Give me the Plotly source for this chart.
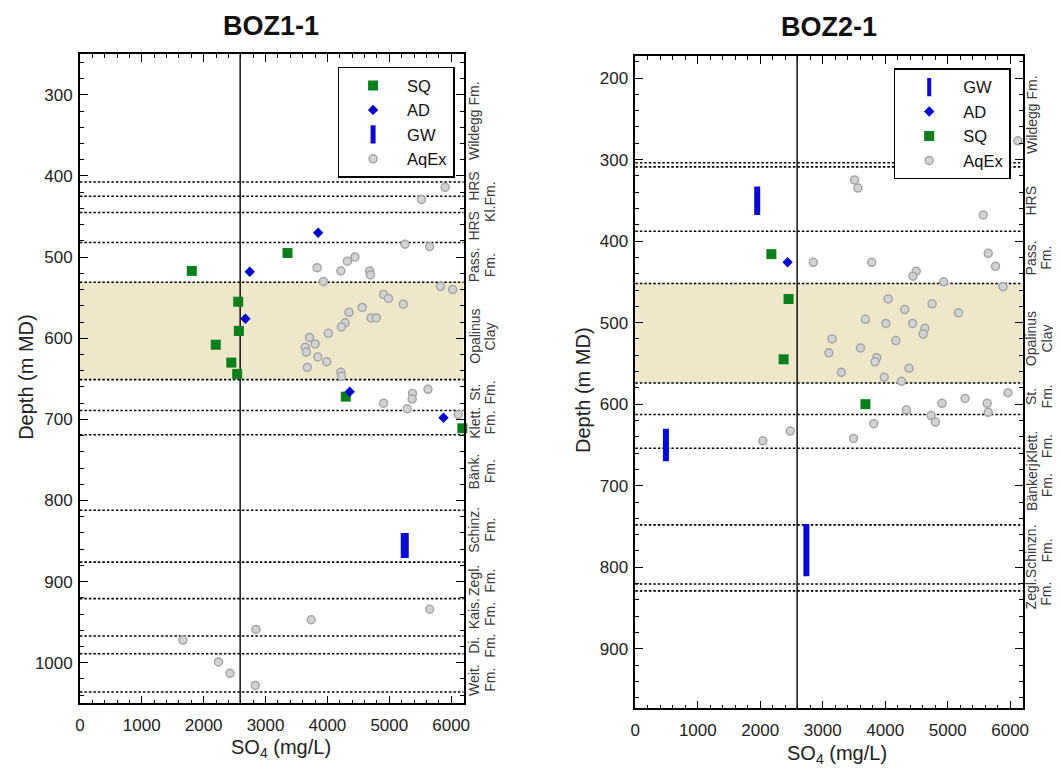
import plotly.graph_objects as go

PAGE_W, PAGE_H = 1061, 769
OFF = 8                      # default body margin of the html page
W, H = PAGE_W - OFF, PAGE_H - OFF

# ---------------- BOZ1-1 data ----------------
sq1_x = [1809, 3355, 2558, 2569, 2196, 2447, 2542, 4297, 6180]
sq1_y = [517, 495, 555, 591, 608, 630, 644, 672, 711]
ad1_x = [3850, 2745, 2675, 4360, 5876]
ad1_y = [470, 518, 576, 666, 698]
gw1_x = [5250]
gw1_top = [840]
gw1_bot = [871]
aq1_x = [5903, 5520, 5254, 5652, 3834, 3935, 4217, 4323, 4445, 4684, 4695, 5828, 6024,
         4908, 4987, 5227, 4563, 4349, 4706, 4791, 4286, 4228, 4015, 3711, 3802, 3643,
         3659, 3845, 3989, 3675, 4217, 4228, 4908, 5376, 5370, 5625, 5290, 6115, 1665,
         2239, 2425, 2845, 2834, 3738, 5652]
aq1_y = [414, 429, 484, 487, 513, 530, 517, 505, 500, 517, 522, 536, 540,
         546, 551, 558, 562, 568, 575, 575, 581, 586, 594, 599, 607, 611,
         617, 623, 629, 636, 642, 647, 680, 668, 675, 663, 687, 694, 972,
         999, 1013, 959, 1028, 947, 934]
bounds1 = [407.5, 425, 445, 482, 531, 651, 689, 719, 812, 876, 921, 967, 989, 1036]
opal1 = [531, 651]
labels1 = [["Wildegg Fm."], ["HRS"], [None, "Kl.Fm."], ["HRS"], ["Pass.", "Fm."],
           ["Opalinus", "Clay"], ["St.", "Fm."], ["Klett.", "Fm."], ["Bänk.", "Fm."],
           ["Schinz.", "Fm."], ["Zegl.", "Fm."], ["Kais.", "Fm."], ["Di.", "Fm."],
           ["Weit.", "Fm."]]
label_depth1 = [332, 412, 432, 461, 510, 598, 667, 704, 764, 836, 899, 940, 979, 1021]

# ---------------- BOZ2-1 data ----------------
gw2_x = [1951, 490, 2738]
gw2_top = [333, 630, 747]
gw2_bot = [368, 670, 811]
ad2_x = [2437]
ad2_y = [426]
sq2_x = [2178, 2453, 2374, 3683]
sq2_y = [416, 471, 545, 600]
aq2_x = [3509, 3562, 5569, 6124, 5649, 2849, 3784, 5765, 4497, 4444, 4935, 5886, 4047,
         4751, 4312, 5173, 3683, 4011, 4439, 4634, 4608, 3150, 4170, 3604, 3097, 3864,
         3837, 4381, 3298, 3984, 4260, 5965, 5279, 4910, 5632, 5649, 4339, 4735, 4803,
         3816, 2479, 2041, 3493]
aq2_y = [325, 335, 368, 277, 415, 426, 426, 431, 437, 443, 450, 456, 471,
         477, 484, 488, 496, 501, 501, 507, 514, 520, 522, 531, 537, 543,
         548, 556, 561, 567, 572, 586, 593, 599, 599, 610, 607, 614, 622,
         624, 633, 645, 642]
bounds2 = [304, 309, 388, 452, 574, 612.6, 654, 748, 820.6, 829]
opal2 = [452, 574]
labels2 = [["Wildegg Fm."], ["HRS"], ["Pass.", "Fm."], ["Opalinus", "Clay"], ["St.", "Fm."],
           ["Klett.", "Fm."], ["Bänkerj.", "Fm."], ["Schinzn.", "Fm."], ["Zegl.", "Fm."]]
label_depth2 = [245, 350, 421, 520, 591, 652, 700, 780, 833]

so4_limit = 2590
x_range = [0, 6200]
y_range1 = [1050, 250]
y_range2 = [973, 173]

# ---------------- styling ----------------
FONT = "Liberation Sans, Arial, sans-serif"
GREEN = "#0a7f1c"
BLUE = "#0000cc"
GWBLUE = "#0a0ad8"
AQ_FILL = "#d3d3d3"
AQ_LINE = "#a5a5a5"


def px_x(p):
    return (p - OFF) / W


def px_y(p):
    return 1 - (p - OFF) / H


fig = go.Figure()


def add_panel(xa, ya, leg, sq, ad, gw, aq, order, gw_width, gw_leg_width):
    fig.add_trace(go.Scatter(
        x=aq[0], y=aq[1], mode="markers", name="AqEx", xaxis=xa, yaxis=ya, legend=leg,
        legendrank=order["AqEx"], cliponaxis=False,
        marker=dict(symbol="circle", size=8, color=AQ_FILL, line=dict(color=AQ_LINE, width=1.5))))
    fig.add_trace(go.Scatter(
        x=sq[0], y=sq[1], mode="markers", name="SQ", xaxis=xa, yaxis=ya, legend=leg,
        legendrank=order["SQ"], cliponaxis=False,
        marker=dict(symbol="square", size=10, color=GREEN, line=dict(width=0))))
    fig.add_trace(go.Scatter(
        x=ad[0], y=ad[1], mode="markers", name="AD", xaxis=xa, yaxis=ya, legend=leg,
        legendrank=order["AD"], cliponaxis=False,
        marker=dict(symbol="diamond", size=8, color=BLUE, line=dict(width=0))))
    gx, gt, gb = gw
    for i in range(len(gx)):
        fig.add_trace(go.Scatter(
            x=[gx[i], gx[i]], y=[gt[i], gb[i]], mode="lines", xaxis=xa, yaxis=ya,
            showlegend=False, legendgroup=leg + "gw", line=dict(color=GWBLUE, width=gw_width)))
    fig.add_trace(go.Scatter(
        x=[None], y=[None], mode="markers", name="GW", xaxis=xa, yaxis=ya, legend=leg,
        legendgroup=leg + "gw", legendrank=order["GW"],
        marker=dict(symbol="line-ns", size=13, color=GWBLUE,
                    line=dict(color=GWBLUE, width=gw_leg_width))))


add_panel("x", "y", "legend", (sq1_x, sq1_y), (ad1_x, ad1_y), (gw1_x, gw1_top, gw1_bot),
          (aq1_x, aq1_y), {"SQ": 1, "AD": 2, "GW": 3, "AqEx": 4}, 8, 7)
add_panel("x2", "y2", "legend2", (sq2_x, sq2_y), (ad2_x, ad2_y), (gw2_x, gw2_top, gw2_bot),
          (aq2_x, aq2_y), {"GW": 1, "AD": 2, "SQ": 3, "AqEx": 4}, 6, 4)

shapes = []
annotations = []


def panel_decor(xref, yref, bounds, opal, labels, depths, col_px):
    shapes.append(dict(type="rect", xref=xref + " domain", yref=yref, x0=0, x1=1,
                       y0=opal[0], y1=opal[1], fillcolor="#efe7c9", line=dict(width=0),
                       layer="below"))
    for b in bounds:
        shapes.append(dict(type="line", xref=xref + " domain", yref=yref, x0=0, x1=1,
                           y0=b, y1=b, line=dict(color="black", width=1.6, dash="2.5px,2px"),
                           layer="below"))
    shapes.append(dict(type="line", xref=xref, yref=yref + " domain", x0=so4_limit,
                       x1=so4_limit, y0=0, y1=1, line=dict(color="#111", width=1.5),
                       layer="below"))
    for lines, d in zip(labels, depths):
        for k, t in enumerate(lines):
            if t is None:
                continue
            annotations.append(dict(text=t, x=px_x(col_px[k]), xref="paper", y=d, yref=yref,
                                    textangle=-90, showarrow=False, xanchor="center",
                                    yanchor="middle",
                                    font=dict(size=14, color="#3a3a3a", family=FONT)))


panel_decor("x", "y", bounds1, opal1, labels1, label_depth1, (474, 490))
panel_decor("x2", "y2", bounds2, opal2, labels2, label_depth2, (1037, 1052.5))

for txt, cx, cy in [("BOZ1-1", 269, 26), ("BOZ2-1", 833, 27)]:
    annotations.append(dict(text="<b>" + txt + "</b>", x=px_x(cx), y=px_y(cy), xref="paper",
                            yref="paper", showarrow=False, xanchor="center", yanchor="middle",
                            font=dict(size=27, color="#111", family=FONT)))
for cx, cy in [(21, 377), (584, 390)]:
    annotations.append(dict(text="Depth (m MD)", x=px_x(cx), y=px_y(cy), xref="paper",
                            yref="paper", showarrow=False, textangle=-90, xanchor="center",
                            yanchor="middle", font=dict(size=20, color="#222", family=FONT)))
for cx, cy in [(279, 748), (841, 754)]:
    annotations.append(dict(text="SO<sub>4</sub> (mg/L)", x=px_x(cx), y=px_y(cy), xref="paper",
                            yref="paper", showarrow=False, xanchor="center", yanchor="middle",
                            font=dict(size=20, color="#222", family=FONT)))

axis_common = dict(showgrid=False, zeroline=False, showline=True, linecolor="black",
                   linewidth=1.5, mirror="ticks", ticks="inside", ticklen=8, tickwidth=1.3,
                   tickcolor="black", tickfont=dict(size=17, color="#222", family=FONT))

xa_common = dict(axis_common, range=x_range, tick0=0, dtick=1000, ticklabelstandoff=6,
                 minor=dict(ticks="inside", ticklen=4, dtick=200, tickcolor="black", tickwidth=1))
ya_common = dict(axis_common, tick0=0, dtick=100, ticklabelstandoff=2,
                 minor=dict(ticks="inside", ticklen=4, dtick=20, tickcolor="black", tickwidth=1))

legend_common = dict(bgcolor="white", bordercolor="black", borderwidth=1.5,
                     font=dict(size=16.5, color="#111", family=FONT), itemwidth=58,
                     xanchor="left", yanchor="top", traceorder="normal", itemclick=False)

fig.update_layout(
    width=W, height=H, margin=dict(l=0, r=0, t=0, b=0),
    paper_bgcolor="white", plot_bgcolor="white",
    font=dict(family=FONT, color="#222"),
    xaxis=dict(xa_common, domain=[px_x(75.6), px_x(463.3)], anchor="y"),
    yaxis=dict(ya_common, domain=[px_y(703.3), px_y(54.3)], range=y_range1, anchor="x"),
    xaxis2=dict(xa_common, domain=[px_x(636.9), px_x(1028.3)], anchor="y2"),
    yaxis2=dict(ya_common, domain=[px_y(708.3), px_y(56)], range=y_range2, anchor="x2"),
    legend=dict(legend_common, x=px_x(336), y=px_y(66.7)),
    legend2=dict(legend_common, x=px_x(898), y=px_y(68.3)),
    shapes=shapes, annotations=annotations,
)

fig.write_html("out.html")
